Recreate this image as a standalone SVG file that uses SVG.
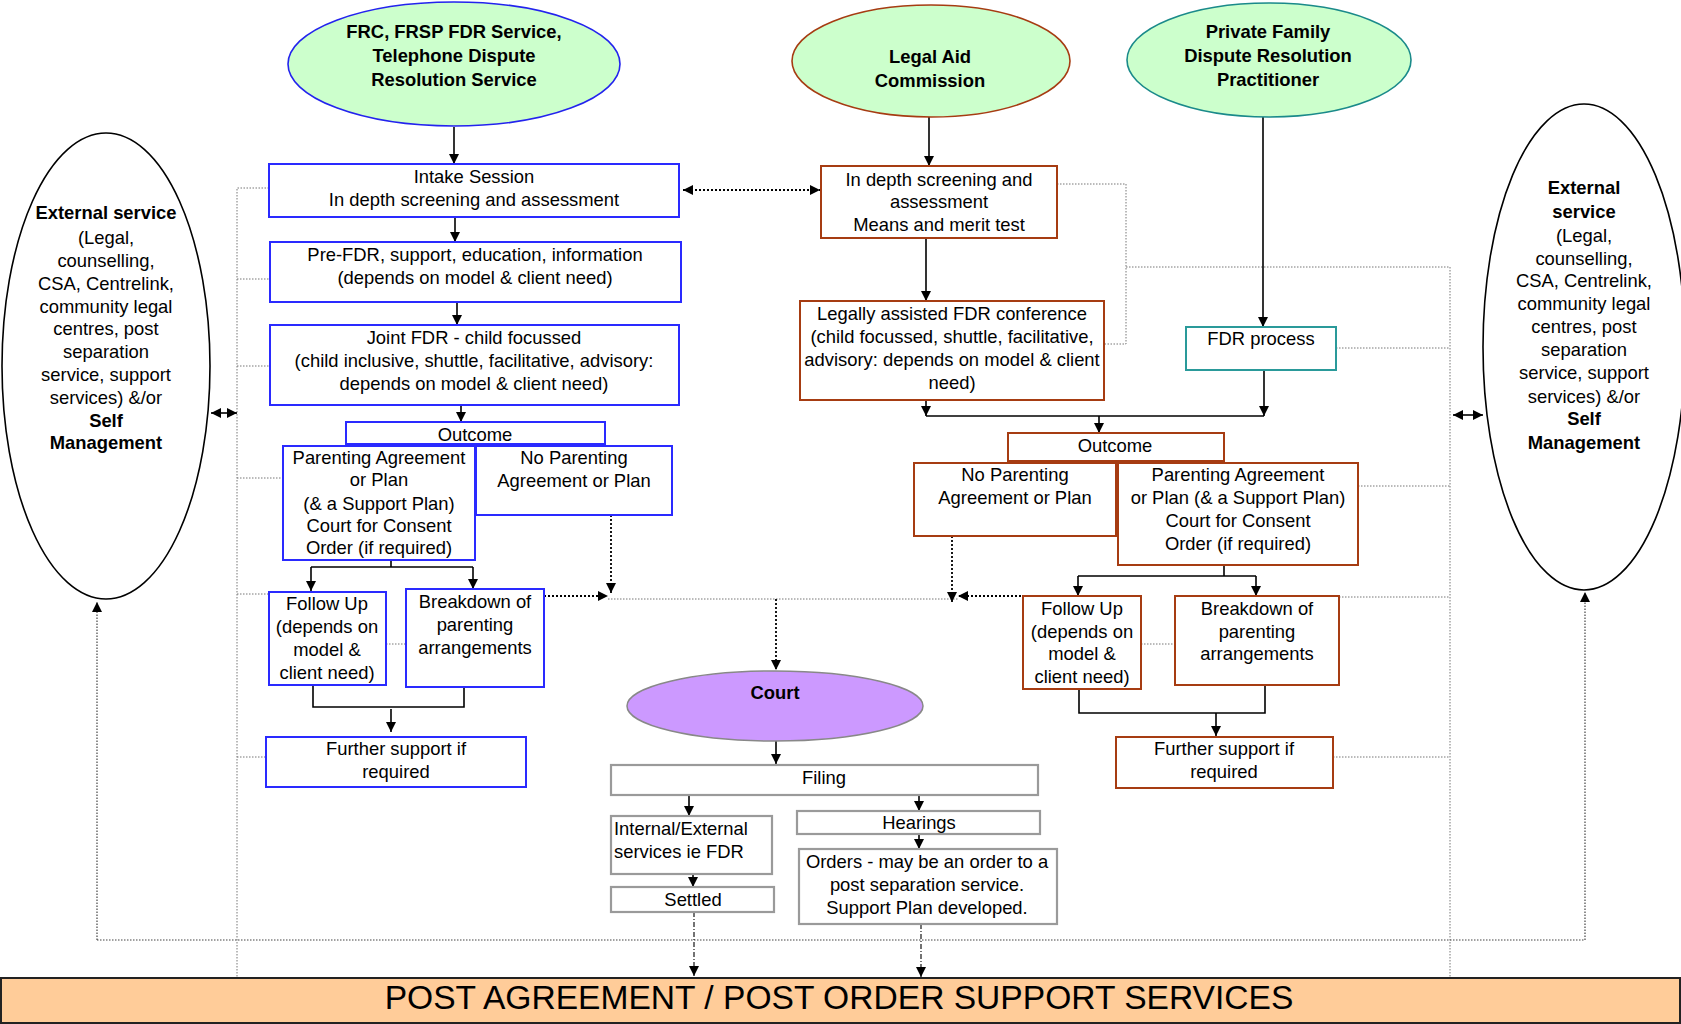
<svg xmlns="http://www.w3.org/2000/svg" width="1681" height="1024" viewBox="0 0 1681 1024">
<defs>
<marker id="ah" viewBox="0 0 10 10" refX="10" refY="5" markerWidth="11" markerHeight="10" orient="auto-start-reverse" markerUnits="userSpaceOnUse"><path d="M0,0 L10,5 L0,10 z" fill="#000"/></marker>
<style>
text{font-family:"Liberation Sans",Arial,sans-serif;font-size:18.4px;fill:#000;text-anchor:middle}
.b{font-weight:bold}
.l{text-anchor:start}
.blue{fill:#fff;stroke:#2a2aff;stroke-width:2}
.brown{fill:#fff;stroke:#a63c12;stroke-width:2}
.teal{fill:#fff;stroke:#2a9a9a;stroke-width:2}
.grey{fill:#fff;stroke:#9a9a9a;stroke-width:2.2}
.src{fill:#ccffcc;stroke-width:1.6}
.ext{fill:#fff;stroke:#000;stroke-width:1.6}
.ln{fill:none;stroke:#000;stroke-width:1.6}
.arr{fill:none;stroke:#000;stroke-width:1.6;marker-end:url(#ah)}
.dot{fill:none;stroke:#000;stroke-width:1.8;stroke-dasharray:2 2;marker-end:url(#ah)}
.thin{fill:none;stroke:#777;stroke-width:1;stroke-dasharray:1.5 1.5}
.loop{fill:none;stroke:#444;stroke-width:1.2;stroke-dasharray:1.5 1.5}
.dash{fill:none;stroke:#000;stroke-width:1.1;stroke-dasharray:5 2 1 2;marker-end:url(#ah)}
</style>
</defs>

<g id="connectors">
  <path class="thin" d="M269,188 H237 V978 M237,279 H270 M237,366 H270 M237,478 H283 M237,594 H269 M237,757 H266"/>
  <path class="thin" d="M1057,184 H1126 V344 H1104 M1126,267 H1450 V978 M1336,348 H1450 M1358,486 H1450 M1339,597 H1450 M1333,757 H1450"/>
  <path class="thin" d="M386,644 H406 M1141,644 H1175 M608,599 H958"/>
  <path class="loop" d="M97,940 H1585"/>
  <path class="loop" d="M97,940 V602" marker-end="url(#ah)"/>
  <path class="loop" d="M1585,940 V592" marker-end="url(#ah)"/>
  <path class="arr" d="M211,413 H237" marker-start="url(#ah)"/>
  <path class="arr" d="M1453,415 H1483" marker-start="url(#ah)"/>
  <path class="dot" d="M683,190 H820" marker-start="url(#ah)"/>
  <path class="dot" d="M611,515 V593"/>
  <path class="dot" d="M544,596 H608"/>
  <path class="dot" d="M776,599 V670"/>
  <path class="dot" d="M952,536 V602"/>
  <path class="dot" d="M1021,596 H958"/>
  <path class="arr" d="M454,127 V164"/>
  <path class="arr" d="M455,217 V242"/>
  <path class="arr" d="M457,302 V325"/>
  <path class="arr" d="M461,405 V422"/>
  <path class="ln" d="M391,560 V567 M311,567 H473"/>
  <path class="arr" d="M311,567 V591"/>
  <path class="arr" d="M473,567 V589"/>
  <path class="ln" d="M313,685 V707 H464 V687"/>
  <path class="arr" d="M391,709 V732"/>
  <path class="arr" d="M929,117 V166"/>
  <path class="arr" d="M926,238 V301"/>
  <path class="arr" d="M1263,117 V327"/>
  <path class="arr" d="M926,400 V416"/>
  <path class="arr" d="M1264,370 V416"/>
  <path class="ln" d="M926,416 H1264"/>
  <path class="arr" d="M1099,416 V433"/>
  <path class="ln" d="M1224,565 V576 M1078,576 H1256"/>
  <path class="arr" d="M1078,576 V596"/>
  <path class="arr" d="M1256,576 V596"/>
  <path class="ln" d="M1079,689 V713 H1265 V685"/>
  <path class="arr" d="M1216,713 V736"/>
  <path class="arr" d="M776,741 V764"/>
  <path class="arr" d="M689,795 V816"/>
  <path class="arr" d="M919,793 V811"/>
  <path class="arr" d="M919,834 V849"/>
  <path class="arr" d="M693,874 V887"/>
  <path class="dash" d="M694,912 V976"/>
  <path class="dash" d="M921,924 V977"/>
</g>

<g id="ext-left">
  <ellipse class="ext" cx="106" cy="366" rx="104" ry="233"/>
  <text x="106" y="219" class="b">External service</text>
  <text x="106" y="244">(Legal,</text>
  <text x="106" y="267">counselling,</text>
  <text x="106" y="290">CSA, Centrelink,</text>
  <text x="106" y="313">community legal</text>
  <text x="106" y="335">centres, post</text>
  <text x="106" y="358">separation</text>
  <text x="106" y="381">service, support</text>
  <text x="106" y="404">services) &amp;/or</text>
  <text x="106" y="427" class="b">Self</text>
  <text x="106" y="449" class="b">Management</text>
</g>

<g id="ext-right">
  <ellipse class="ext" cx="1584" cy="347" rx="101" ry="243"/>
  <text x="1584" y="194" class="b">External</text>
  <text x="1584" y="218" class="b">service</text>
  <text x="1584" y="242">(Legal,</text>
  <text x="1584" y="265">counselling,</text>
  <text x="1584" y="287">CSA, Centrelink,</text>
  <text x="1584" y="310">community legal</text>
  <text x="1584" y="333">centres, post</text>
  <text x="1584" y="356">separation</text>
  <text x="1584" y="379">service, support</text>
  <text x="1584" y="403">services) &amp;/or</text>
  <text x="1584" y="425" class="b">Self</text>
  <text x="1584" y="449" class="b">Management</text>
</g>

<g id="frc">
  <ellipse class="src" cx="454" cy="64" rx="166" ry="62" stroke="#2323ee"/>
  <text x="454" y="38" class="b">FRC, FRSP FDR Service,</text>
  <text x="454" y="62" class="b">Telephone Dispute</text>
  <text x="454" y="86" class="b">Resolution Service</text>
</g>
<g id="legal-aid">
  <ellipse class="src" cx="931" cy="61" rx="139" ry="56" stroke="#a63c12"/>
  <text x="930" y="63" class="b">Legal Aid</text>
  <text x="930" y="87" class="b">Commission</text>
</g>
<g id="private-fdr">
  <ellipse class="src" cx="1269" cy="60" rx="142" ry="57" stroke="#1a8a8a"/>
  <text x="1268" y="38" class="b">Private Family</text>
  <text x="1268" y="62" class="b">Dispute Resolution</text>
  <text x="1268" y="86" class="b">Practitioner</text>
</g>

<g id="intake">
  <rect class="blue" x="269" y="164" width="410" height="53"/>
  <text x="474" y="183">Intake Session</text>
  <text x="474" y="206">In depth screening and assessment</text>
</g>
<g id="pre-fdr">
  <rect class="blue" x="270" y="242" width="411" height="60"/>
  <text x="475" y="261">Pre-FDR, support, education, information</text>
  <text x="475" y="284">(depends on model &amp; client need)</text>
</g>
<g id="joint-fdr">
  <rect class="blue" x="270" y="325" width="409" height="80"/>
  <text x="474" y="344">Joint FDR - child focussed</text>
  <text x="474" y="367">(child inclusive, shuttle, facilitative, advisory:</text>
  <text x="474" y="390">depends on model &amp; client need)</text>
</g>
<g id="outcome-left">
  <rect class="blue" x="346" y="422" width="259" height="22"/>
  <text x="475" y="441">Outcome</text>
</g>
<g id="parenting-left">
  <rect class="blue" x="283" y="446" width="192" height="114"/>
  <text x="379" y="464">Parenting Agreement</text>
  <text x="379" y="486">or Plan</text>
  <text x="379" y="510">(&amp; a Support Plan)</text>
  <text x="379" y="532">Court for Consent</text>
  <text x="379" y="554">Order (if required)</text>
</g>
<g id="no-parenting-left">
  <rect class="blue" x="476" y="446" width="196" height="69"/>
  <text x="574" y="464">No Parenting</text>
  <text x="574" y="487">Agreement or Plan</text>
</g>
<g id="followup-left">
  <rect class="blue" x="269" y="592" width="117" height="93"/>
  <text x="327" y="610">Follow Up</text>
  <text x="327" y="633">(depends on</text>
  <text x="327" y="656">model &amp;</text>
  <text x="327" y="679">client need)</text>
</g>
<g id="breakdown-left">
  <rect class="blue" x="406" y="589" width="138" height="98"/>
  <text x="475" y="608">Breakdown of</text>
  <text x="475" y="631">parenting</text>
  <text x="475" y="654">arrangements</text>
</g>
<g id="further-left">
  <rect class="blue" x="266" y="737" width="260" height="50"/>
  <text x="396" y="755">Further support if</text>
  <text x="396" y="778">required</text>
</g>

<g id="screening">
  <rect class="brown" x="821" y="166" width="236" height="72"/>
  <text x="939" y="186">In depth screening and</text>
  <text x="939" y="208">assessment</text>
  <text x="939" y="231">Means and merit test</text>
</g>
<g id="la-conference">
  <rect class="brown" x="800" y="301" width="304" height="99"/>
  <text x="952" y="320">Legally assisted FDR conference</text>
  <text x="952" y="343">(child focussed, shuttle, facilitative,</text>
  <text x="952" y="366">advisory: depends on model &amp; client</text>
  <text x="952" y="389">need)</text>
</g>
<g id="fdr-process">
  <rect class="teal" x="1186" y="327" width="150" height="43"/>
  <text x="1261" y="345">FDR process</text>
</g>
<g id="outcome-right">
  <rect class="brown" x="1008" y="433" width="216" height="28"/>
  <text x="1115" y="452">Outcome</text>
</g>
<g id="no-parenting-right">
  <rect class="brown" x="914" y="463" width="202" height="73"/>
  <text x="1015" y="481">No Parenting</text>
  <text x="1015" y="504">Agreement or Plan</text>
</g>
<g id="parenting-right">
  <rect class="brown" x="1118" y="463" width="240" height="102"/>
  <text x="1238" y="481">Parenting Agreement</text>
  <text x="1238" y="504">or Plan (&amp; a Support Plan)</text>
  <text x="1238" y="527">Court for Consent</text>
  <text x="1238" y="550">Order (if required)</text>
</g>
<g id="followup-right">
  <rect class="brown" x="1023" y="596" width="118" height="93"/>
  <text x="1082" y="615">Follow Up</text>
  <text x="1082" y="638">(depends on</text>
  <text x="1082" y="660">model &amp;</text>
  <text x="1082" y="683">client need)</text>
</g>
<g id="breakdown-right">
  <rect class="brown" x="1175" y="596" width="164" height="89"/>
  <text x="1257" y="615">Breakdown of</text>
  <text x="1257" y="638">parenting</text>
  <text x="1257" y="660">arrangements</text>
</g>
<g id="further-right">
  <rect class="brown" x="1116" y="737" width="217" height="51"/>
  <text x="1224" y="755">Further support if</text>
  <text x="1224" y="778">required</text>
</g>

<g id="court">
  <ellipse cx="775" cy="706" rx="148" ry="35" fill="#cc99ff" stroke="#888" stroke-width="1.5"/>
  <text x="775" y="699" class="b">Court</text>
</g>
<g id="filing">
  <rect class="grey" x="611" y="765" width="427" height="30"/>
  <text x="824" y="784">Filing</text>
</g>
<g id="internal-external">
  <rect class="grey" x="611" y="816" width="161" height="58"/>
  <text x="614" y="835" class="l">Internal/External</text>
  <text x="614" y="858" class="l">services ie FDR</text>
</g>
<g id="settled">
  <rect class="grey" x="611" y="887" width="163" height="25"/>
  <text x="693" y="906">Settled</text>
</g>
<g id="hearings">
  <rect class="grey" x="797" y="811" width="243" height="23"/>
  <text x="919" y="829">Hearings</text>
</g>
<g id="orders">
  <rect class="grey" x="799" y="849" width="258" height="75"/>
  <text x="927" y="868">Orders - may be an order to a</text>
  <text x="927" y="891">post separation service.</text>
  <text x="927" y="914">Support Plan developed.</text>
</g>

<g id="post-support">
  <rect x="1" y="978" width="1679" height="45" fill="#ffcc99" stroke="#222" stroke-width="2"/>
  <text x="839" y="1009" style="font-size:33.6px">POST AGREEMENT / POST ORDER SUPPORT SERVICES</text>
</g>
</svg>
